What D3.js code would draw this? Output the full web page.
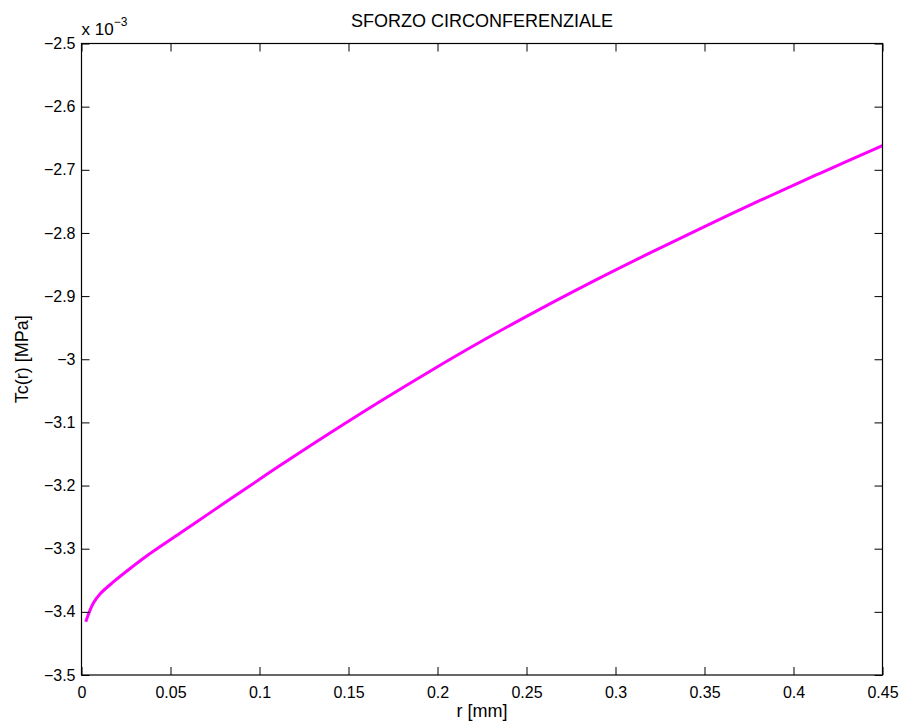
<!DOCTYPE html>
<html>
<head>
<meta charset="utf-8">
<script src="https://cdn.jsdelivr.net/npm/d3@7"></script>
<style>
  html, body { margin: 0; padding: 0; background: #fff; }
  svg { display: block; font-family: "Liberation Sans", Arial, Helvetica, sans-serif; }
</style>
</head>
<body>
<svg id="chart" width="903" height="722"></svg>
<script>
// Radius r [mm]
const rValues = [0.0024, 0.0066, 0.0104, 0.0179, 0.0273, 0.0366, 0.0553, 0.074, 0.0928,
  0.1115, 0.1396, 0.1677, 0.1958, 0.2267, 0.2576, 0.2885, 0.3194, 0.3503, 0.3812, 0.4149, 0.45];
// Circumferential stress Tc(r), in units of 1e-3 MPa
const tcValues = [-3.4156, -3.3865, -3.3717, -3.3527, -3.3314, -3.3116, -3.2756, -3.2397, -3.2039,
  -3.1684, -3.1168, -3.0669, -3.0189, -2.9684, -2.9206, -2.8751, -2.8316, -2.7895, -2.7485, -2.7055, -2.6618];

const xTicks = [0, 0.05, 0.1, 0.15, 0.2, 0.25, 0.3, 0.35, 0.4, 0.45];
const xTickLabels = ["0", "0.05", "0.1", "0.15", "0.2", "0.25", "0.3", "0.35", "0.4", "0.45"];
const yTicks = [-3.5, -3.4, -3.3, -3.2, -3.1, -3.0, -2.9, -2.8, -2.7, -2.6, -2.5];
const yTickLabels = ["\u22123.5", "\u22123.4", "\u22123.3", "\u22123.2", "\u22123.1", "\u22123",
  "\u22122.9", "\u22122.8", "\u22122.7", "\u22122.6", "\u22122.5"];

const titleText = "SFORZO CIRCONFERENZIALE";
const xLabel = "r [mm]";
const yLabel = "Tc(r) [MPa]";

const plotLeft = 81.5, plotRight = 882.5, plotTop = 43.5, plotBottom = 675;
const tickLen = 8;
const tickFont = 16, labelFont = 18;

const svg = d3.select("#chart");
const x = d3.scaleLinear().domain([0, 0.45]).range([plotLeft, plotRight]);
const y = d3.scaleLinear().domain([-3.5, -2.5]).range([plotBottom, plotTop]);

// Curve
const line = d3.line().x(d => x(d[0])).y(d => y(d[1])).curve(d3.curveCatmullRom.alpha(0.5));
svg.append("path")
  .datum(rValues.map((r, i) => [r, tcValues[i]]))
  .attr("d", line)
  .attr("fill", "none")
  .attr("stroke", "#ff00ff")
  .attr("stroke-width", 3)
  .attr("stroke-linejoin", "round");

// Axes: ticks pointing inward on all four sides
const xBottom = d3.axisBottom(x).tickValues(xTicks).tickSizeInner(-tickLen).tickSizeOuter(0)
  .tickPadding(12).tickFormat((d, i) => xTickLabels[i]);
const xTop = d3.axisTop(x).tickValues(xTicks).tickSizeInner(-tickLen).tickSizeOuter(0).tickFormat("");
const yLeft = d3.axisLeft(y).tickValues(yTicks).tickSizeInner(-tickLen).tickSizeOuter(0)
  .tickPadding(6).tickFormat((d, i) => yTickLabels[i]);
const yRight = d3.axisRight(y).tickValues(yTicks).tickSizeInner(-tickLen).tickSizeOuter(0).tickFormat("");

function styleAxis(g) {
  g.select(".domain").remove();
  g.selectAll(".tick line").attr("stroke", "#000").attr("stroke-width", 1);
  g.selectAll(".tick text").attr("fill", "#000").attr("font-size", tickFont)
    .attr("font-family", "Liberation Sans, Arial, sans-serif");
}

svg.append("g").attr("transform", `translate(0,${plotBottom})`).call(xBottom).call(styleAxis);
svg.append("g").attr("transform", `translate(0,${plotTop})`).call(xTop).call(styleAxis);
svg.append("g").attr("transform", `translate(${plotLeft},0)`).call(yLeft).call(styleAxis);
svg.append("g").attr("transform", `translate(${plotRight},0)`).call(yRight).call(styleAxis);

// Box
svg.append("rect")
  .attr("x", plotLeft).attr("y", plotTop)
  .attr("width", plotRight - plotLeft).attr("height", plotBottom - plotTop)
  .attr("fill", "none").attr("stroke", "#000").attr("stroke-width", 1.2);

// Exponent label
const expo = svg.append("text").attr("x", plotLeft).attr("y", 34.5)
  .attr("font-size", 17).attr("fill", "#000");
expo.append("tspan").text("x 10");
expo.append("tspan").attr("dy", -9).attr("font-size", 12).text("\u22123");

// Title and axis labels
svg.append("text").attr("x", (plotLeft + plotRight) / 2).attr("y", 27)
  .attr("text-anchor", "middle").attr("font-size", labelFont).attr("fill", "#000").text(titleText);
svg.append("text").attr("x", (plotLeft + plotRight) / 2).attr("y", 717)
  .attr("text-anchor", "middle").attr("font-size", labelFont).attr("fill", "#000").text(xLabel);
svg.append("text")
  .attr("transform", `translate(28,${(plotTop + plotBottom) / 2}) rotate(-90)`)
  .attr("text-anchor", "middle").attr("font-size", labelFont).attr("fill", "#000").text(yLabel);
</script>
</body>
</html>
